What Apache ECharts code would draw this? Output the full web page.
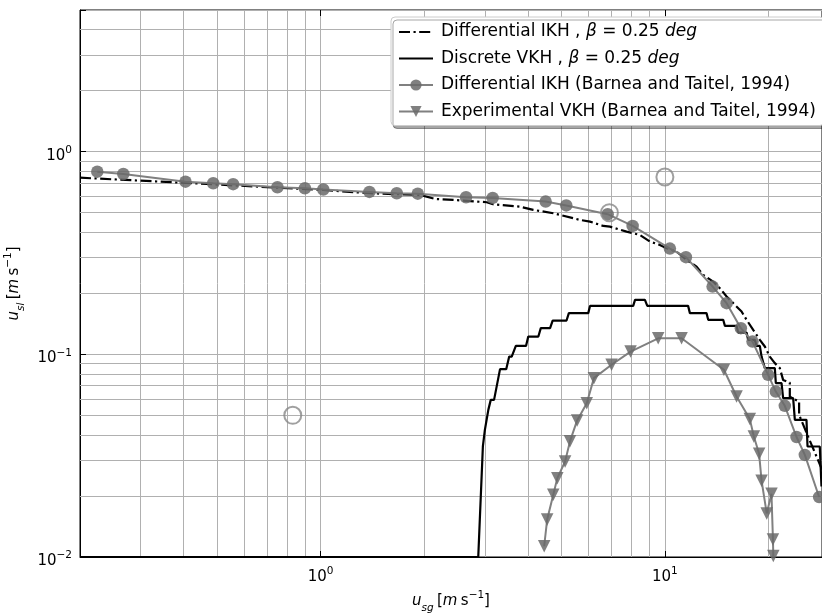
<!DOCTYPE html>
<html><head><meta charset="utf-8">
<script src="https://cdn.jsdelivr.net/npm/echarts@6/dist/echarts.min.js"></script>
<style>html,body{margin:0;padding:0;background:#fff}#c{width:822px;height:613px}</style>
</head><body><div id="c"></div>
<script>
// Differential IKH, beta = 0.25 deg (dash-dot)
const ikhX = [0.2, 0.407, 1.017, 1.392, 1.945, 2.149, 2.429, 3.037, 3.168, 3.794, 4.147, 4.739, 4.957, 5.666, 6.058, 6.622, 6.924, 7.74, 8.46, 9.05, 9.67, 10.12, 10.81, 11.56, 12.36, 12.92, 13.81, 14.44, 15.11, 15.79, 16.7, 17.27, 18.05, 18.87, 19.51, 20.17, 20.86, 21.57, 22.05, 23.06, 23.06, 24.54, 24.54, 26.06, 28.6];
const ikhY = [0.744, 0.701, 0.647, 0.6235, 0.6116, 0.5844, 0.5778, 0.563, 0.5503, 0.5355, 0.516, 0.4968, 0.4873, 0.4605, 0.4517, 0.43, 0.4266, 0.4031, 0.3882, 0.3599, 0.3467, 0.334, 0.3212, 0.2924, 0.271, 0.2466, 0.2286, 0.212, 0.1928, 0.1789, 0.1626, 0.148, 0.132, 0.1179, 0.1093, 0.0975, 0.0905, 0.0855, 0.0748, 0.0724, 0.0617, 0.0585, 0.0503, 0.0393, 0.027];
// Discrete VKH, beta = 0.25 deg (solid)
const vkhX = [0.2, 2.87, 2.90, 2.96, 3.00, 3.07, 3.12, 3.19, 3.32, 3.46, 3.53, 3.59, 3.69, 3.95, 4.01, 4.29, 4.36, 4.64, 4.72, 5.18, 5.26, 5.99, 6.06, 8.09, 8.19, 8.75, 8.89, 11.68, 11.82, 13.21, 13.36, 14.77, 14.94, 16.15, 16.32, 17.27, 17.45, 18.25, 18.46, 18.87, 19.09, 19.32, 19.51, 20.86, 21.0, 21.82, 22.05, 23.58, 23.85, 25.78, 25.96, 28.18, 28.5];
const vkhY = [0.01, 0.01, 0.0153, 0.0351, 0.0424, 0.0532, 0.0596, 0.0596, 0.0845, 0.0845, 0.0975, 0.0975, 0.110, 0.110, 0.1224, 0.1224, 0.1346, 0.1346, 0.1468, 0.1468, 0.1597, 0.1597, 0.1734, 0.1734, 0.1857, 0.1857, 0.1734, 0.1734, 0.1597, 0.1597, 0.148, 0.148, 0.1382, 0.1382, 0.128, 0.128, 0.1179, 0.1179, 0.110, 0.110, 0.0975, 0.0975, 0.0855, 0.0855, 0.0721, 0.0721, 0.0608, 0.0608, 0.0475, 0.0475, 0.0351, 0.0351, 0.0223];
// Differential IKH (Barnea and Taitel, 1994)
const btIkhX = [0.2245, 0.2672, 0.405, 0.4875, 0.557, 0.749, 0.90, 1.018, 1.386, 1.664, 1.915, 2.645, 3.16, 4.505, 5.17, 6.82, 8.06, 10.34, 11.51, 13.76, 15.11, 16.62, 17.97, 19.95, 21.0, 22.3, 24.12, 25.5, 28.05];
const btIkhY = [0.797, 0.776, 0.711, 0.6985, 0.691, 0.6677, 0.66, 0.6503, 0.633, 0.6235, 0.6207, 0.5957, 0.591, 0.567, 0.543, 0.4913, 0.430, 0.3324, 0.3015, 0.216, 0.1789, 0.1346, 0.1156, 0.0792, 0.0655, 0.0557, 0.0391, 0.0319, 0.01976];
// Experimental VKH (Barnea and Taitel, 1994)
const btVkhX = [4.46, 4.55, 4.74, 4.87, 5.13, 5.30, 5.56, 5.93, 6.22, 7.00, 7.95, 9.56, 11.18, 14.84, 16.15, 17.65, 18.13, 18.78, 19.09, 19.76, 20.4, 20.6, 20.65];
const btVkhY = [0.0113, 0.0153, 0.0203, 0.0245, 0.0296, 0.0372, 0.0472, 0.0574, 0.0763, 0.0888, 0.1032, 0.120, 0.120, 0.0839, 0.0619, 0.0479, 0.0393, 0.0323, 0.0238, 0.0164, 0.0205, 0.0122, 0.0101];
// open circles
const openX = [0.83, 6.9, 10.0];
const openY = [0.05, 0.5, 0.75];
// axis ranges and minor grid positions
const xRange = [0.2, 28.6];
const yRange = [0.01, 5];
const minorX = [0.3, 0.4, 0.5, 0.6, 0.7, 0.8, 0.9, 2, 3, 4, 5, 6, 7, 8, 9, 20];
const minorY = [0.02, 0.03, 0.04, 0.05, 0.06, 0.07, 0.08, 0.09, 0.2, 0.3, 0.4, 0.5, 0.6, 0.7, 0.8, 0.9, 2, 3, 4];

const names = [
  'Differential IKH , β = 0.25 deg',
  'Discrete VKH , β = 0.25 deg',
  'Differential IKH (Barnea and Taitel, 1994)',
  'Experimental VKH (Barnea and Taitel, 1994)'
];

const zip = (a, b) => a.map((v, i) => [v, b[i]]);
const FONT = 'DejaVu Sans';
const GRID = '#b0b0b0';

function powLabel(v) {
  const l = Math.log10(v);
  const n = Math.round(l);
  if (Math.abs(l - n) > 1e-6) return '';
  return '{b|10}{s|' + (n < 0 ? '\u2212' + (-n) : n) + '}';
}
const labelRich = {
  b: {fontSize: 15, fontFamily: FONT, color: '#000', lineHeight: 22},
  s: {fontSize: 10.5, fontFamily: FONT, color: '#000', verticalAlign: 'top', lineHeight: 14}
};
const nameRich = {
  i: {fontSize: 15, fontFamily: FONT, fontStyle: 'italic', color: '#000', lineHeight: 24},
  r: {fontSize: 15, fontFamily: FONT, color: '#000', lineHeight: 24},
  sub: {fontSize: 10.5, fontFamily: FONT, fontStyle: 'italic', color: '#000', verticalAlign: 'bottom', lineHeight: 14},
  sup: {fontSize: 10.5, fontFamily: FONT, color: '#000', verticalAlign: 'top', lineHeight: 14}
};
const hideSym = {color: 'rgba(0,0,0,0)', opacity: 0, borderWidth: 0};

const chart = echarts.init(document.getElementById('c'), null, {renderer: 'canvas'});
chart.setOption({
  animation: false,
  backgroundColor: '#fff',
  grid: {left: 80, top: 10, right: 0, bottom: 56, show: true, borderColor: '#000', borderWidth: 1, backgroundColor: 'transparent', containLabel: false, outerBoundsMode: 'none'},
  xAxis: [{
    type: 'log', logBase: 10, min: xRange[0], max: xRange[1],
    axisLine: {show: true, lineStyle: {color: '#000', width: 1}},
    axisTick: {show: true, inside: true, length: 6, lineStyle: {color: '#000'}},
    axisLabel: {formatter: powLabel, rich: labelRich, margin: 9, showMinLabel: true, showMaxLabel: true},
    splitLine: {show: true, lineStyle: {color: GRID, width: 1}},
    name: '{i|u}{sub|sg} {r|[}{i|m} {r|s}{sup|\u22121}{r|]}',
    nameLocation: 'middle', nameGap: 30,
    nameTextStyle: {rich: nameRich}
  }, {
    type: 'log', logBase: 10, min: xRange[0], max: xRange[1], position: 'top',
    axisLine: {show: false},
    axisTick: {show: true, inside: true, length: 6, lineStyle: {color: '#000'}},
    axisLabel: {show: false}, splitLine: {show: false}
  }],
  yAxis: [{
    type: 'log', logBase: 10, min: yRange[0], max: yRange[1],
    axisLine: {show: true, lineStyle: {color: '#000', width: 1}},
    axisTick: {show: true, inside: true, length: 6, lineStyle: {color: '#000'}},
    axisLabel: {formatter: powLabel, rich: labelRich, margin: 8, padding: [8, 0, 0, 0]},
    splitLine: {show: true, lineStyle: {color: GRID, width: 1}},
    name: '{i|u}{sub|sl} {r|[}{i|m} {r|s}{sup|\u22121}{r|]}',
    nameLocation: 'middle', nameGap: 52,
    nameTextStyle: {rich: nameRich}
  }],
  legend: {
    data: [
      {name: names[0], itemStyle: hideSym},
      {name: names[1], itemStyle: hideSym},
      {name: names[2]},
      {name: names[3]}
    ],
    orient: 'vertical', left: 391, top: 17,
    padding: [5, 8, 4, 7],
    itemWidth: 34, itemHeight: 14, itemGap: 6.5,
    backgroundColor: '#fff', borderColor: '#cccccc', borderWidth: 1, borderRadius: 4,
    shadowColor: 'rgba(0,0,0,0.35)', shadowBlur: 0, shadowOffsetX: 2, shadowOffsetY: 3,
    textStyle: {fontSize: 17, fontFamily: FONT, color: '#000', lineHeight: 20, rich: {
      t: {fontSize: 17, fontFamily: FONT, color: '#000', lineHeight: 20, padding: [0, 0, 0, 3]},
      u: {fontSize: 17, fontFamily: FONT, color: '#000', lineHeight: 20},
      it: {fontSize: 17, fontFamily: FONT, fontStyle: 'italic', color: '#000', lineHeight: 20}
    }},
    formatter: function (n) {
      if (n.indexOf('β') < 0) return '{t|' + n + '}';
      const parts = n.split(', β = 0.25 deg');
      return '{t|' + parts[0] + ', }{it|β}{u| = 0.25 }{it|deg}';
    }
  },
  series: [
    {
      name: 'minor-grid', type: 'line', data: [], z: 1, silent: true,
      markLine: {
        silent: true, z: 1, symbol: ['none', 'none'], animation: false,
        label: {show: false},
        lineStyle: {color: GRID, width: 1, type: 'solid'},
        emphasis: {disabled: true},
        data: minorX.map(v => ({xAxis: v})).concat(minorY.map(v => ({yAxis: v})))
      }
    },
    {
      name: names[0], type: 'line', data: zip(ikhX, ikhY), symbol: 'none', showSymbol: false,
      lineStyle: {color: '#000', width: 2.2, type: [11, 3.5, 2.2, 3.5]}, itemStyle: {color: '#000'}, z: 3, clip: true
    },
    {
      name: names[1], type: 'line', data: zip(vkhX, vkhY), symbol: 'none', showSymbol: false,
      lineStyle: {color: '#000', width: 2.2}, itemStyle: {color: '#000'}, z: 4, clip: true
    },
    {
      name: names[2], type: 'line', data: zip(btIkhX, btIkhY), symbol: 'circle', symbolSize: 12.5,
      lineStyle: {color: '#808080', width: 2}, itemStyle: {color: '#6a6a6a', opacity: 0.85}, z: 5, clip: true
    },
    {
      name: names[3], type: 'line', data: zip(btVkhX, btVkhY), symbol: 'triangle', symbolRotate: 180, symbolSize: 12.5,
      lineStyle: {color: '#808080', width: 2}, itemStyle: {color: '#6a6a6a', opacity: 0.85}, z: 6, clip: true
    },
    {
      name: 'open', type: 'scatter', data: zip(openX, openY), symbol: 'circle', symbolSize: 17,
      itemStyle: {color: 'rgba(0,0,0,0)', borderColor: '#888', borderWidth: 2}, z: 7
    }
  ]
});
</script></body></html>
